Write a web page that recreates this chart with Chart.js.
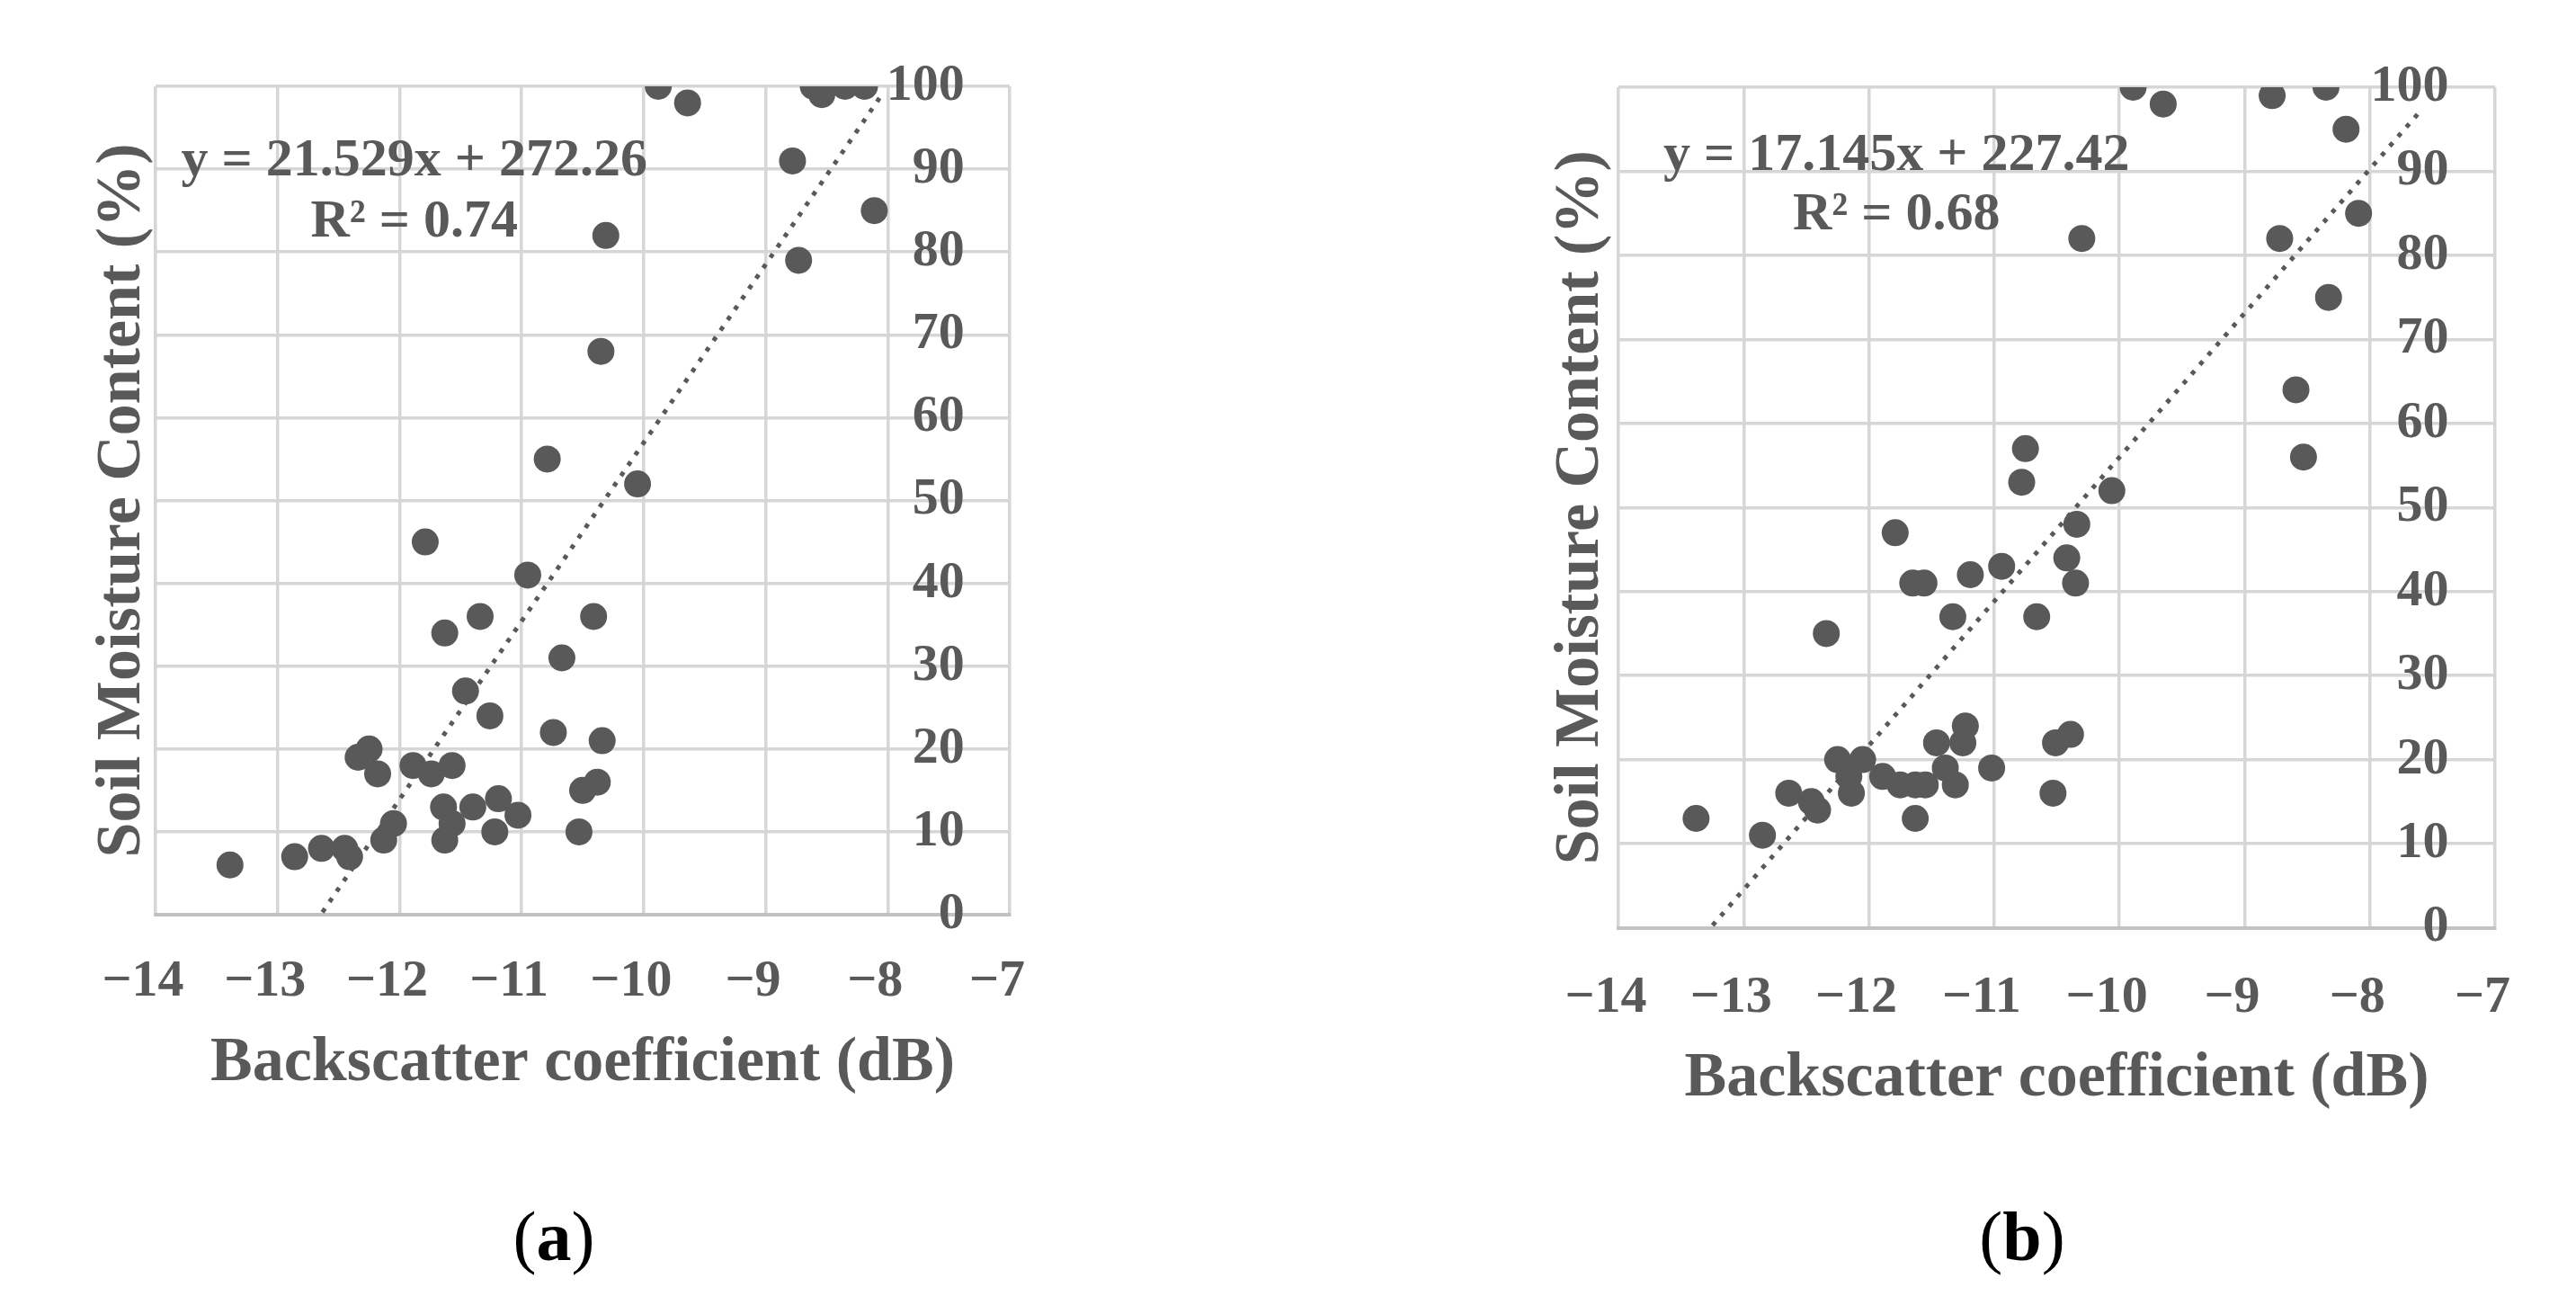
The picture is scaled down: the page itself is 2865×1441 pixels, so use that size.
<!DOCTYPE html>
<html>
<head>
<meta charset="utf-8">
<script src="https://cdn.jsdelivr.net/npm/chart.js@4.4.1/dist/chart.umd.min.js"></script>
<style>
  body { margin: 0; background: #fff; width: 2865px; height: 1441px; position: relative; overflow: hidden; }
  canvas { position: absolute; top: 0; }
  #chartA { left: 0; }
  #chartB { left: 1600px; }
  .cap { position: absolute; top: 1330px; width: 200px; text-align: center;
         font-family: "Liberation Serif", serif; font-size: 78px; color: #000; line-height: 90px; }
</style>
</head>
<body>
<canvas id="chartA" width="1400" height="1300"></canvas>
<canvas id="chartB" width="1265" height="1300"></canvas>
<div class="cap" style="left:516px">(<b>a</b>)</div>
<div class="cap" style="left:2149px">(<b>b</b>)</div>
<script>
// backscatter (dB) vs soil moisture (%)
var xA = [-13.39, -12.86, -12.64, -12.45, -12.41, -12.34, -12.25, -12.18, -12.13, -12.05,
          -11.89, -11.79, -11.74, -11.64, -11.63, -11.63, -11.57, -11.57, -11.46, -11.40,
          -11.34, -11.26, -11.22, -11.19, -11.03, -10.95, -10.79, -10.74, -10.67, -10.53,
          -10.50, -10.41, -10.38, -10.34, -10.35, -10.31, -10.05, -9.88, -9.64, -8.78,
          -8.73, -8.61, -8.54, -8.35, -8.19, -8.11]
var yA = [6, 7, 8, 8, 7, 19, 20, 17, 9, 11,
          18, 45, 17, 13, 34, 9, 18, 11, 27, 13,
          36, 24, 10, 14, 12, 41, 55, 22, 31, 10,
          15, 36, 16, 21, 68, 82, 52, 100, 98, 91,
          79, 100, 99, 100, 100, 85]

var xB = [-13.38, -12.85, -12.64, -12.46, -12.41, -12.34, -12.25, -12.16, -12.14, -12.05,
          -11.89, -11.79, -11.75, -11.65, -11.63, -11.63, -11.56, -11.55, -11.46, -11.39,
          -11.33, -11.31, -11.23, -11.25, -11.19, -11.02, -10.94, -10.78, -10.75, -10.66,
          -10.53, -10.51, -10.42, -10.39, -10.35, -10.34, -10.30, -10.06, -9.89, -9.65,
          -8.78, -8.72, -8.59, -8.53, -8.35, -8.33, -8.19, -8.09]
var yB = [13, 11, 16, 15, 14, 35, 20, 18, 16, 20,
          18, 47, 17, 41, 17, 13, 41, 17, 22, 19,
          37, 17, 24, 22, 42, 19, 43, 53, 57, 37,
          16, 22, 44, 23, 41, 48, 82, 52, 100, 98,
          99, 82, 64, 56, 100, 75, 95, 85]

// linear trendlines as printed on the chart
var fitA = { slope: 21.529, intercept: 272.26, r2: '0.74', from: -13.39, to: -8.05 }
var fitB = { slope: 17.145, intercept: 227.42, r2: '0.68', from: -13.38, to: -7.6 }

var GREY = '#595959'
var SERIF = '"Liberation Serif", "Times New Roman", serif'

function toPoints(xs, ys) {
    return xs.map((x, i) => ({ x: x, y: ys[i] }))
}

function trendPoints(fit) {
    return [fit.from, fit.to].map(x => ({ x: x, y: fit.slope * x + fit.intercept }))
}

function minusSign(v) {
    return v < 0 ? '\u2212' + Math.abs(v) : '' + v
}

// writes the equation + R² inside the plot, placed in data coordinates
function equationPlugin(fit, at) {
    return {
        id: 'equation',
        afterDatasetsDraw(chart) {
            const ctx = chart.ctx
            const sx = chart.scales.x
            const sy = chart.scales.y
            ctx.save()
            ctx.font = 'bold 60px ' + SERIF
            ctx.fillStyle = GREY
            ctx.textAlign = 'center'
            ctx.textBaseline = 'alphabetic'
            ctx.fillText('y = ' + fit.slope + 'x + ' + fit.intercept,
                sx.getPixelForValue(at.x), sy.getPixelForValue(at.eqY))
            ctx.fillText('R\u00b2 = ' + fit.r2,
                sx.getPixelForValue(at.x), sy.getPixelForValue(at.r2Y))
            ctx.restore()
        }
    }
}

function makeChart(id, xs, ys, fit, at, lay) {
    var ctx = document.getElementById(id).getContext('2d')
    return new Chart(ctx, {
        type: 'scatter',
        data: {
            datasets: [{
                label: 'trend',
                data: trendPoints(fit),
                showLine: true,
                borderColor: GREY,
                borderWidth: 5,
                borderDash: [5, 9],
                pointRadius: 0,
                clip: 0,
                order: 0
            }, {
                label: 'points',
                data: toPoints(xs, ys),
                pointRadius: 15,
                pointBorderWidth: 0,
                backgroundColor: GREY,
                borderColor: GREY,
                order: 1
            }]
        },
        options: {
            responsive: false,
            animation: false,
            events: [],
            layout: { padding: lay.padding },
            plugins: {
                legend: { display: false },
                tooltip: { enabled: false }
            },
            scales: {
                x: {
                    type: 'linear',
                    position: 'bottom',
                    min: -14,
                    max: -7,
                    afterFit: s => { s.height = lay.xHeight },
                    ticks: {
                        stepSize: 1,
                        padding: lay.tickPad,
                        labelOffset: -14,
                        maxRotation: 0,
                        color: GREY,
                        font: { family: SERIF, size: 58, weight: 'bold' },
                        callback: minusSign
                    },
                    grid: { color: '#d6d6d6', lineWidth: 3.5, drawTicks: false },
                    border: { color: '#c2c2c2', width: 4 },
                    title: {
                        display: true,
                        text: 'Backscatter coefficient (dB)',
                        color: GREY,
                        padding: 0,
                        font: { family: SERIF, size: 70, weight: 'bold' }
                    }
                },
                // values axis sits inside the plot, crossing near x = -7.37
                y: {
                    type: 'linear',
                    position: { x: -7.37 },
                    min: 0,
                    max: 100,
                    ticks: {
                        stepSize: 10,
                        color: GREY,
                        font: { family: SERIF, size: 58, weight: 'bold' }
                    },
                    grid: { color: '#d6d6d6', lineWidth: 3.5, drawTicks: false },
                    border: { display: false }
                },
                // only carries the vertical title on the left
                yt: {
                    type: 'linear',
                    position: 'left',
                    afterFit: s => { s.width = lay.titleWidth },
                    ticks: { display: false },
                    grid: { display: false, drawTicks: false },
                    border: { display: false },
                    title: {
                        display: true,
                        text: 'Soil Moisture Content (%)',
                        color: GREY,
                        padding: 0,
                        font: { family: SERIF, size: 70, weight: 'bold' }
                    }
                }
            }
        },
        plugins: [equationPlugin(fit, at)]
    })
}

makeChart('chartA', xA, yA, fitA, { x: -11.88, eqY: 89.3, r2Y: 81.9 }, {
    padding: { left: 95, top: 96, right: 277, bottom: 75 },
    titleWidth: 78,
    xHeight: 208,
    tickPad: 40
})

makeChart('chartB', xB, yB, fitB, { x: -11.78, eqY: 90.2, r2Y: 83.1 }, {
    padding: { left: 117, top: 97, right: 90, bottom: 58.5 },
    titleWidth: 83,
    xHeight: 210,
    tickPad: 44
})
</script>
</body>
</html>
